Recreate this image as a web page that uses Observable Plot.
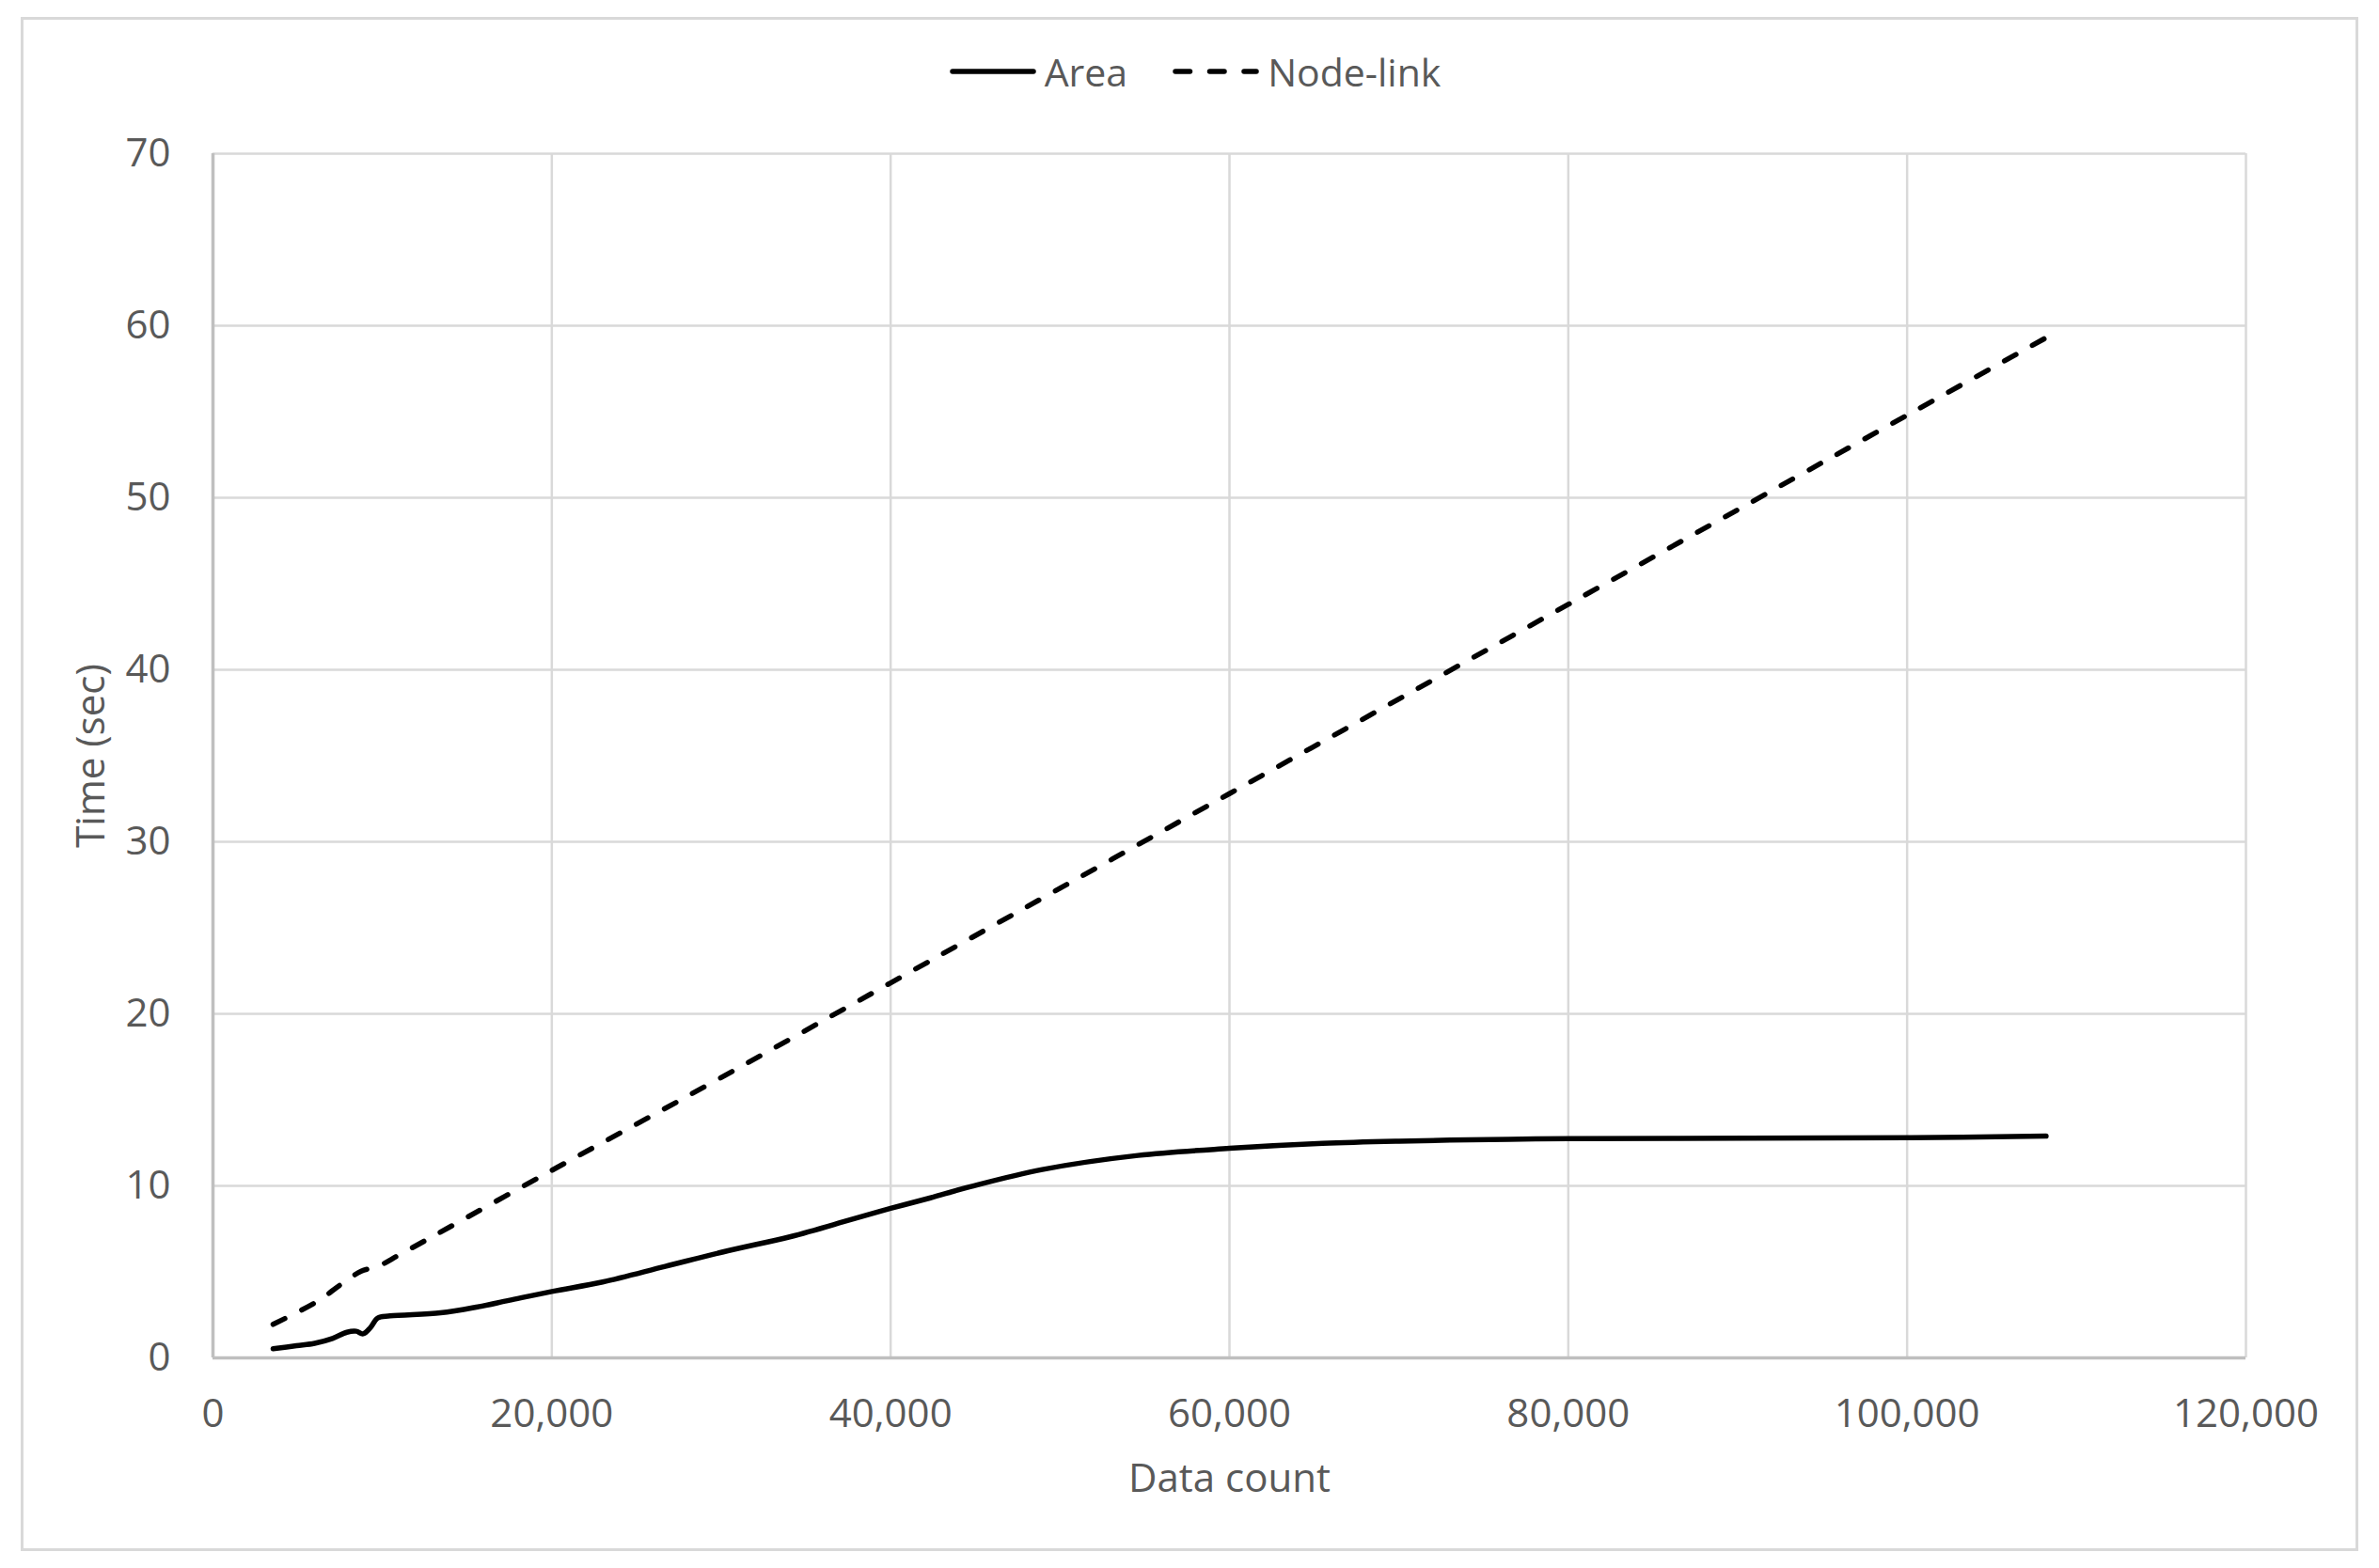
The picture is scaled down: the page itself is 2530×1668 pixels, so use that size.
<!DOCTYPE html>
<html>
<head>
<meta charset="utf-8">
<script src="https://cdn.jsdelivr.net/npm/d3@7"></script>
<script src="https://cdn.jsdelivr.net/npm/@observablehq/plot@0.6"></script>
<style>
  html, body { margin: 0; padding: 0; background: #fff; }
  #wrap { position: relative; width: 2530px; height: 1668px; background: #fff; font-family: "Open Sans", sans-serif; color: #595959; }
  #frame { position: absolute; left: 22px; top: 18px; width: 2480px; height: 1626px; border: 3px solid #d9d9d9; pointer-events: none; }
  #legend { height: 120px; display: flex; justify-content: center; align-items: center; padding-top: 32px; padding-left: 12px; box-sizing: border-box; font-size: 41px; }
  .item { display: flex; align-items: center; }
  .item svg { display: block; }
  .item span { margin-left: 9px; }
  #chart svg { display: block; }
</style>
</head>
<body>
<div id="wrap">
  <div id="legend"></div>
  <div id="chart"></div>
  <div id="frame"></div>
</div>
<script>
// ---- data ----
const seriesNames = ["Area", "Node-link"];

const areaCount = [3550, 4930, 6000, 7050, 7900, 8450, 8860, 9290, 9710, 10450, 13430, 15540, 17450, 20000, 23000, 26700, 30400, 34100, 37700, 40000, 42300, 44700, 48950, 54600, 60000, 65500, 70000, 76500, 80000, 90600, 100000, 108200];
const areaTime  = [0.53, 0.71, 0.85, 1.13, 1.49, 1.55, 1.40, 1.76, 2.31, 2.44, 2.62, 2.95, 3.34, 3.86, 4.41, 5.32, 6.23, 7.05, 8.05, 8.69, 9.29, 9.95, 10.95, 11.77, 12.18, 12.47, 12.60, 12.71, 12.75, 12.77, 12.80, 12.89];

const nodeCount = [3550, 6200, 7480, 8750, 9710, 11090, 20000, 29360, 40000, 60000, 80000, 100000, 108200];
const nodeTime  = [1.95, 3.31, 4.22, 5.04, 5.31, 6.04, 10.9, 15.95, 21.8, 32.8, 43.8, 54.8, 59.3];

const xTicks = [0, 20000, 40000, 60000, 80000, 100000, 120000];
const yTicks = [0, 10, 20, 30, 40, 50, 60, 70];

const xLabel = "Data count";
const yLabel = "Time (sec)";

// ---- tables ----
const areaData = areaCount.map((c, i) => ({count: c, time: areaTime[i]}));
const nodeData = nodeCount.map((c, i) => ({count: c, time: nodeTime[i]}));

const TEXT = "#595959";
const GRID = "#d9d9d9";
const AXIS = "#bfbfbf";
const LW = 5.5;
const DASH = "14,20";

// ---- legend (HTML above the SVG) ----
const legend = document.getElementById("legend");
[[seriesNames[0], null], [seriesNames[1], DASH]].forEach(([name, dash], i) => {
  const it = document.createElement("div");
  it.className = "item";
  if (i > 0) it.style.marginLeft = "48px";
  const ns = "http://www.w3.org/2000/svg";
  const s = document.createElementNS(ns, "svg");
  s.setAttribute("width", 92); s.setAttribute("height", 20);
  const l = document.createElementNS(ns, "line");
  l.setAttribute("x1", 3); l.setAttribute("x2", 89);
  l.setAttribute("y1", 10); l.setAttribute("y2", 10);
  l.setAttribute("stroke", "#000"); l.setAttribute("stroke-width", LW);
  l.setAttribute("stroke-linecap", "round");
  if (dash) l.setAttribute("stroke-dasharray", "15.5,21");
  s.appendChild(l);
  it.appendChild(s);
  const t = document.createElement("span");
  t.textContent = name;
  it.appendChild(t);
  legend.appendChild(it);
});

// ---- chart ----
const chart = Plot.plot({
  width: 2530,
  height: 1548,
  marginLeft: 226,
  marginRight: 142,
  marginTop: 43,
  marginBottom: 224,
  style: {fontFamily: "'Open Sans', sans-serif", fontSize: "42px", color: TEXT, background: "transparent", overflow: "visible"},
  x: {domain: [0, 120000]},
  y: {domain: [0, 70]},
  marks: [
    Plot.gridX(xTicks, {stroke: GRID, strokeOpacity: 1, strokeWidth: 2.5}),
    Plot.gridY(yTicks, {stroke: GRID, strokeOpacity: 1, strokeWidth: 2.5}),
    Plot.ruleX([0], {stroke: AXIS, strokeWidth: 3.5}),
    Plot.ruleY([0], {stroke: AXIS, strokeWidth: 3.5}),
    Plot.axisX({ticks: xTicks, tickSize: 0, tickPadding: 44, tickFormat: d3.format(","), fill: TEXT, fontSize: 42,
      label: xLabel, labelAnchor: "center", labelArrow: "none", labelOffset: 142}),
    Plot.axisY({ticks: yTicks, tickSize: 0, tickPadding: 45, fill: TEXT, fontSize: 42,
      label: yLabel, labelAnchor: "center", labelArrow: "none", labelOffset: 145}),
    Plot.line(nodeData, {x: "count", y: "time", stroke: "#000", strokeWidth: LW, strokeDasharray: DASH, strokeLinecap: "round", strokeLinejoin: "round", curve: "catmull-rom"}),
    Plot.line(areaData, {x: "count", y: "time", stroke: "#000", strokeWidth: LW, strokeLinecap: "round", strokeLinejoin: "round", curve: "catmull-rom"})
  ]
});
document.getElementById("chart").appendChild(chart);
</script>
</body>
</html>
